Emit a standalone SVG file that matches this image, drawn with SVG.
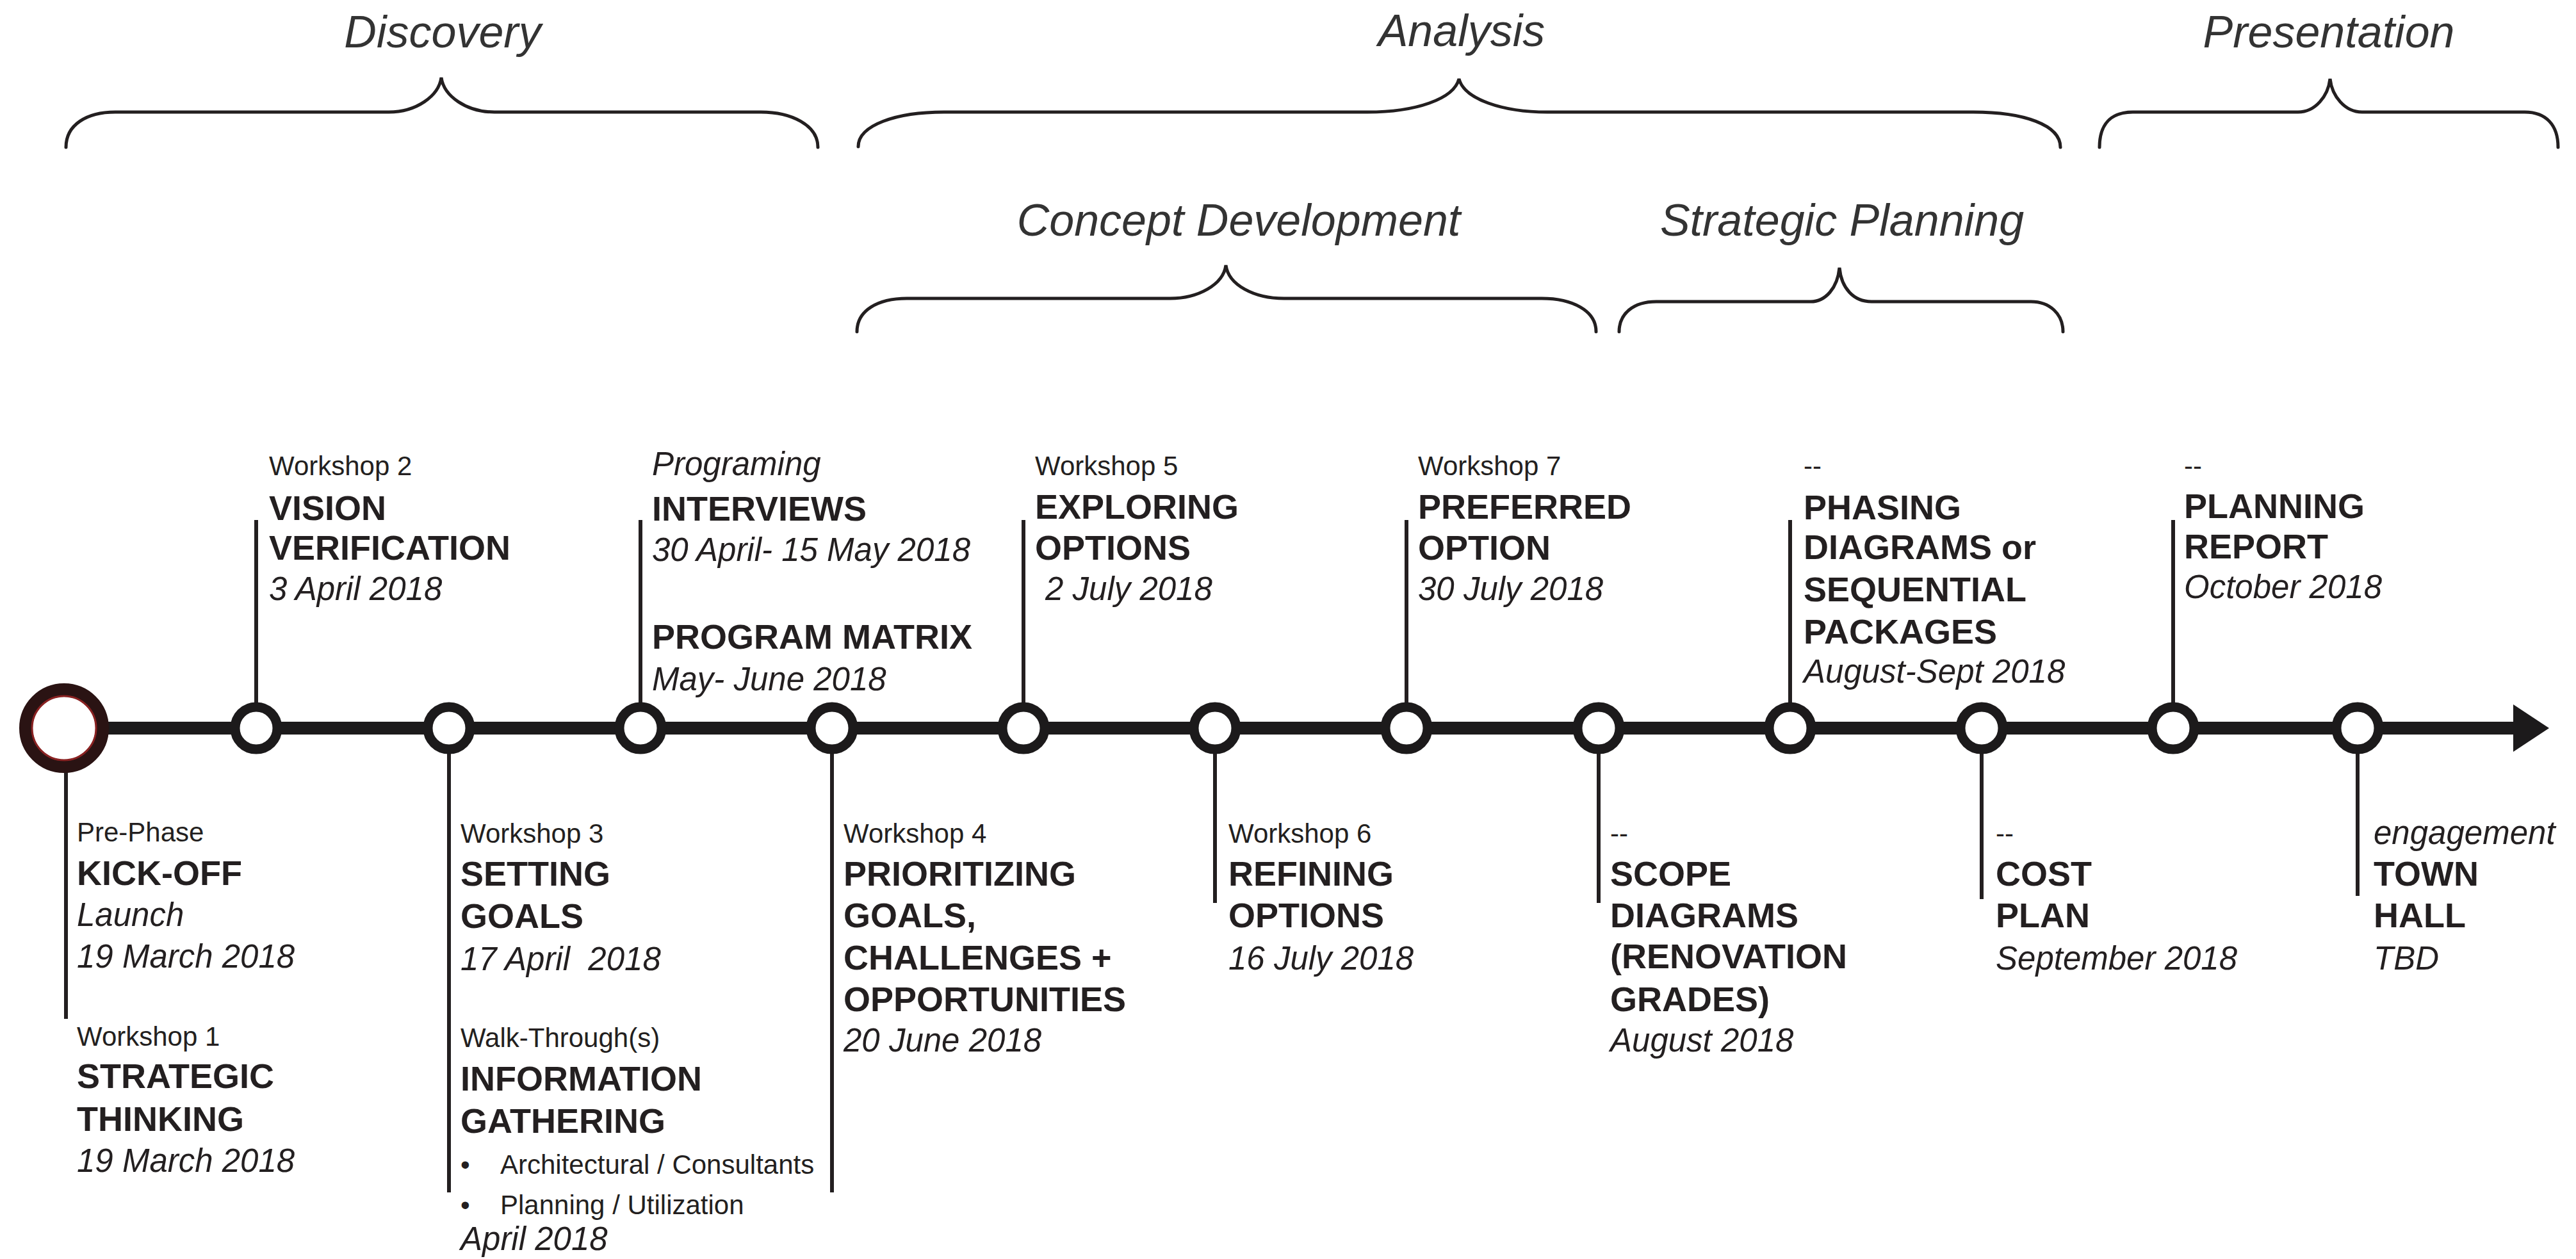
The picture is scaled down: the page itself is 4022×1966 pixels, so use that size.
<svg xmlns="http://www.w3.org/2000/svg" width="4022" height="1966" viewBox="0 0 4022 1966">
<style>
text{font-family:"Liberation Sans",Arial,sans-serif;fill:#231f20}
.h{font-size:70px;font-style:italic;fill:#333}
.r{font-size:42px}
.b{font-size:54px;font-weight:bold}
.i{font-size:51px;font-style:italic}
.brace{fill:none;stroke:#231f20;stroke-width:5;stroke-linecap:round}
.stem{stroke:#231f20;stroke-width:6;fill:none}
.tl{stroke:#1c1a1b;stroke-width:20;fill:none}
.node{fill:#fff;stroke:#1c1a1b;stroke-width:15}
</style>
<rect width="4022" height="1966" fill="#fff"/>

<g id="phases">
<g id="phase-discovery">
<path class="brace" d="M103 230 C103 195 135 175 180 175 L607 175 C650 175 685 150 689 121 C693 150 728 175 772 175 L1188 175 C1235 175 1277 195 1277 230"/>
<text class="h" x="691" y="74" text-anchor="middle">Discovery</text>
</g>
<g id="phase-analysis">
<path class="brace" d="M1340 229 C1340 195 1400 175 1474 175 L2135 175 C2210 175 2270 155 2278 123 C2286 155 2346 175 2416 175 L3081 175 C3160 175 3217 195 3217 230"/>
<text class="h" x="2282" y="72" text-anchor="middle">Analysis</text>
</g>
<g id="phase-presentation">
<path class="brace" d="M3278 230 C3278 195 3295 175 3330 175 L3588 175 C3615 175 3635 150 3638 123 C3641 150 3661 175 3688 175 L3942 175 C3975 175 3994 195 3994 230"/>
<text class="h" x="3636" y="74" text-anchor="middle">Presentation</text>
</g>
<g id="phase-concept">
<path class="brace" d="M1338 518 C1338 485 1370 466 1416 466 L1827 466 C1870 466 1910 445 1914 414 C1918 445 1958 466 2005 466 L2407 466 C2455 466 2492 485 2492 518"/>
<text class="h" x="1934" y="368" text-anchor="middle">Concept Development</text>
</g>
<g id="phase-strategic">
<path class="brace" d="M2528 518 C2528 490 2550 471 2586 471 L2827 471 C2850 471 2869 450 2872 418 C2875 450 2894 471 2922 471 L3171 471 C3200 471 3221 490 3221 518"/>
<text class="h" x="2876" y="368" text-anchor="middle">Strategic Planning</text>
</g>
</g>

<g id="connectors">
<line class="tl" x1="100" y1="1137" x2="3935" y2="1137"/>
<polygon points="3924,1100 3980,1137 3924,1174" fill="#1c1a1b"/>
<line class="stem" x1="103" y1="1137" x2="103" y2="1591"/>
<line class="stem" x1="400" y1="812" x2="400" y2="1137"/>
<line class="stem" x1="701" y1="1137" x2="701" y2="1862"/>
<line class="stem" x1="1000" y1="812" x2="1000" y2="1137"/>
<line class="stem" x1="1299" y1="1137" x2="1299" y2="1862"/>
<line class="stem" x1="1598" y1="812" x2="1598" y2="1137"/>
<line class="stem" x1="1897" y1="1137" x2="1897" y2="1410"/>
<line class="stem" x1="2196" y1="812" x2="2196" y2="1137"/>
<line class="stem" x1="2496" y1="1137" x2="2496" y2="1410"/>
<line class="stem" x1="2795" y1="812" x2="2795" y2="1137"/>
<line class="stem" x1="3094" y1="1137" x2="3094" y2="1404"/>
<line class="stem" x1="3393" y1="812" x2="3393" y2="1137"/>
<line class="stem" x1="3681" y1="1137" x2="3681" y2="1399"/>
</g>

<g id="n1-kickoff">
<circle cx="100" cy="1137" r="59.5" fill="#fff" stroke="#2a1313" stroke-width="21"/>
<circle cx="100" cy="1137" r="50" fill="none" stroke="#8a2222" stroke-width="3"/>
<text class="r" x="120" y="1314">Pre-Phase</text>
<text class="b" x="120" y="1382">KICK-OFF</text>
<text class="i" x="120" y="1446">Launch</text>
<text class="i" x="120" y="1511">19 March 2018</text>
<text class="r" x="120" y="1633">Workshop 1</text>
<text class="b" x="120" y="1699">STRATEGIC</text>
<text class="b" x="120" y="1766">THINKING</text>
<text class="i" x="120" y="1830">19 March 2018</text>
</g>

<g id="n2-vision">
<circle class="node" cx="400" cy="1137" r="33"/>
<text class="r" x="420" y="742">Workshop 2</text>
<text class="b" x="420" y="812">VISION</text>
<text class="b" x="420" y="874">VERIFICATION</text>
<text class="i" x="420" y="937">3 April 2018</text>
</g>

<g id="n3-goals">
<circle class="node" cx="701" cy="1137" r="33"/>
<text class="r" x="719" y="1316">Workshop 3</text>
<text class="b" x="719" y="1383">SETTING</text>
<text class="b" x="719" y="1449">GOALS</text>
<text class="i" x="719" y="1515" xml:space="preserve">17 April  2018</text>
<text class="r" x="719" y="1635">Walk-Through(s)</text>
<text class="b" x="719" y="1703">INFORMATION</text>
<text class="b" x="719" y="1769">GATHERING</text>
<text class="r" x="719" y="1833">•</text>
<text class="r" x="781" y="1833">Architectural / Consultants</text>
<text class="r" x="719" y="1896">•</text>
<text class="r" x="781" y="1896">Planning / Utilization</text>
<text class="i" x="719" y="1952">April 2018</text>
</g>

<g id="n4-interviews">
<circle class="node" cx="1000" cy="1137" r="33"/>
<text class="i" x="1018" y="742">Programing</text>
<text class="b" x="1018" y="813">INTERVIEWS</text>
<text class="i" x="1018" y="876">30 April- 15 May 2018</text>
<text class="b" x="1018" y="1013">PROGRAM MATRIX</text>
<text class="i" x="1018" y="1078">May- June 2018</text>
</g>

<g id="n5-prioritizing">
<circle class="node" cx="1299" cy="1137" r="33"/>
<text class="r" x="1317" y="1316">Workshop 4</text>
<text class="b" x="1317" y="1383">PRIORITIZING</text>
<text class="b" x="1317" y="1448">GOALS,</text>
<text class="b" x="1317" y="1514">CHALLENGES +</text>
<text class="b" x="1317" y="1579">OPPORTUNITIES</text>
<text class="i" x="1317" y="1642">20 June 2018</text>
</g>

<g id="n6-exploring">
<circle class="node" cx="1598" cy="1137" r="33"/>
<text class="r" x="1616" y="742">Workshop 5</text>
<text class="b" x="1616" y="810">EXPLORING</text>
<text class="b" x="1616" y="874">OPTIONS</text>
<text class="i" x="1632" y="937">2 July 2018</text>
</g>

<g id="n7-refining">
<circle class="node" cx="1897" cy="1137" r="33"/>
<text class="r" x="1918" y="1316">Workshop 6</text>
<text class="b" x="1918" y="1383">REFINING</text>
<text class="b" x="1918" y="1448">OPTIONS</text>
<text class="i" x="1918" y="1514">16 July 2018</text>
</g>

<g id="n8-preferred">
<circle class="node" cx="2196" cy="1137" r="33"/>
<text class="r" x="2214" y="742">Workshop 7</text>
<text class="b" x="2214" y="810">PREFERRED</text>
<text class="b" x="2214" y="874">OPTION</text>
<text class="i" x="2214" y="937">30 July 2018</text>
</g>

<g id="n9-scope">
<circle class="node" cx="2496" cy="1137" r="33"/>
<text class="r" x="2514" y="1316">--</text>
<text class="b" x="2514" y="1383">SCOPE</text>
<text class="b" x="2514" y="1448">DIAGRAMS</text>
<text class="b" x="2514" y="1512">(RENOVATION</text>
<text class="b" x="2514" y="1579">GRADES)</text>
<text class="i" x="2514" y="1642">August 2018</text>
</g>

<g id="n10-phasing">
<circle class="node" cx="2795" cy="1137" r="33"/>
<text class="r" x="2816" y="742">--</text>
<text class="b" x="2816" y="811">PHASING</text>
<text class="b" x="2816" y="873">DIAGRAMS or</text>
<text class="b" x="2816" y="939">SEQUENTIAL</text>
<text class="b" x="2816" y="1005">PACKAGES</text>
<text class="i" x="2816" y="1066">August-Sept 2018</text>
</g>

<g id="n11-cost">
<circle class="node" cx="3094" cy="1137" r="33"/>
<text class="r" x="3116" y="1316">--</text>
<text class="b" x="3116" y="1383">COST</text>
<text class="b" x="3116" y="1448">PLAN</text>
<text class="i" x="3116" y="1514">September 2018</text>
</g>

<g id="n12-report">
<circle class="node" cx="3393" cy="1137" r="33"/>
<text class="r" x="3410" y="742">--</text>
<text class="b" x="3410" y="809">PLANNING</text>
<text class="b" x="3410" y="872">REPORT</text>
<text class="i" x="3410" y="934">October 2018</text>
</g>

<g id="n13-townhall">
<circle class="node" cx="3681" cy="1137" r="33"/>
<text class="i" x="3706" y="1318">engagement</text>
<text class="b" x="3706" y="1383">TOWN</text>
<text class="b" x="3706" y="1448">HALL</text>
<text class="i" x="3706" y="1514">TBD</text>
</g>
</svg>
